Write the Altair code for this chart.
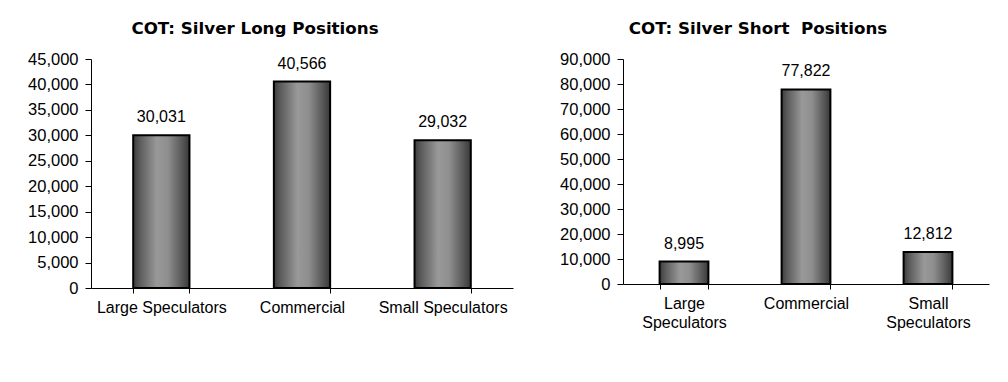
import altair as alt
import pandas as pd

categories = ["Large Speculators", "Commercial", "Small Speculators"]
long_values = [30031, 40566, 29032]
short_values = [8995, 77822, 12812]
long_ticks = [0, 5000, 10000, 15000, 20000, 25000, 30000, 35000, 40000, 45000]
short_ticks = [0, 10000, 20000, 30000, 40000, 50000, 60000, 70000, 80000, 90000]
long_title = "COT: Silver Long Positions"
short_title = "COT: Silver Short\u00a0 Positions"

FONT = "Liberation Sans"
TITLE_FONT = "DejaVu Sans"

bar_fill = alt.Gradient(
    gradient="linear", x1=0, x2=1, y1=0, y2=0,
    stops=[
        alt.GradientStop(color="#3c3c3c", offset=0),
        alt.GradientStop(color="#5c5c5c", offset=0.12),
        alt.GradientStop(color="#999999", offset=0.42),
        alt.GradientStop(color="#8e8e8e", offset=0.62),
        alt.GradientStop(color="#555555", offset=0.88),
        alt.GradientStop(color="#383838", offset=1),
    ],
)


def panel(values, title, ticks, width, height, wrap, dx, title_offset):
    df = pd.DataFrame({"category": categories, "value": values})
    label_expr = "split(datum.label, ' ')" if wrap else "datum.label"
    x = alt.X(
        "category:N", sort=categories, title=None,
        scale=alt.Scale(paddingInner=0.6, paddingOuter=0.3),
        axis=alt.Axis(
            labelAngle=0, tickBand="extent", labelFont=FONT, labelFontSize=16,
            labelColor="black", domainColor="black", tickColor="black",
            tickSize=5, labelPadding=6, labelOverlap=False, labelExpr=label_expr,
            labelLineHeight=19, labelLimit=300,
        ),
    )
    y = alt.Y(
        "value:Q", title=None,
        scale=alt.Scale(domain=[0, ticks[-1]], nice=False),
        axis=alt.Axis(
            values=ticks, format=",d", grid=False, labelFont=FONT, labelFontSize=16.5,
            labelColor="black", domainColor="black", tickColor="black",
            tickSize=6, labelPadding=7, labelOverlap=False, labelFlush=False,
        ),
    )
    base = alt.Chart(df).encode(x=x, y=y)
    bars = base.mark_bar(fill=bar_fill, stroke="black", strokeWidth=2)
    labels = base.mark_text(
        font=FONT, fontSize=16, dy=-13, baseline="alphabetic", color="black"
    ).encode(text=alt.Text("value:Q", format=","))
    return alt.layer(bars, labels).properties(
        width=width, height=height,
        title=alt.TitleParams(
            title, font=TITLE_FONT, fontSize=16.7, fontWeight="bold", color="black",
            anchor="middle", frame="group", dx=dx, offset=title_offset,
        ),
    )


left = panel(long_values, long_title, long_ticks, 422, 229, False, -47, 13)
right = panel(short_values, short_title, short_ticks, 366, 225, True, -48, 13)

chart = alt.hconcat(left, right, spacing=46).properties(
    padding={"left": 19, "top": 13, "right": 5, "bottom": 5},
    background="white",
).configure_view(strokeWidth=0, stroke="transparent")

chart.save("out.html", embed_options={"renderer": "svg", "actions": False})
